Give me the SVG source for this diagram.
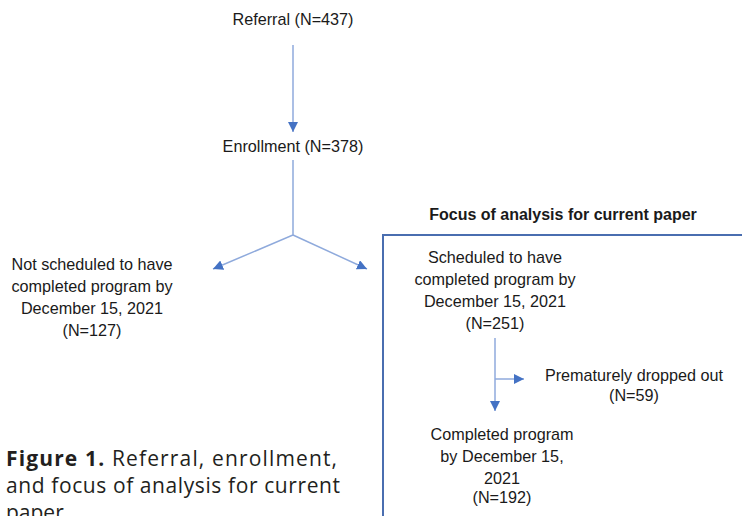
<svg xmlns="http://www.w3.org/2000/svg" width="742" height="516" viewBox="0 0 742 516">
<defs>
<style>
.t{font-family:"Liberation Sans",Arial,sans-serif;font-size:16.2px;fill:#1a1a1a;text-anchor:middle}
.h{font-family:"Liberation Sans",Arial,sans-serif;font-size:16px;font-weight:bold;fill:#1a1a1a;text-anchor:middle}
.c{font-family:"Open Sans","Liberation Sans",sans-serif;font-size:21px;fill:#231f20}
.ln{stroke:#8faadc;stroke-width:1.5;fill:none}
</style>
<marker id="ah" viewBox="0 0 10 10" refX="10" refY="5" markerWidth="10" markerHeight="10" markerUnits="userSpaceOnUse" orient="auto">
<path d="M0,0 L10,5 L0,10 Z" fill="#4472c4"/>
</marker>
</defs>
<rect width="742" height="516" fill="#ffffff"/>
<g id="connectors">
<line class="ln" x1="293" y1="45" x2="293" y2="132" marker-end="url(#ah)"/>
<polyline class="ln" points="293,160 293,235 213,269" marker-end="url(#ah)"/>
<line class="ln" x1="293" y1="235" x2="367" y2="269" marker-end="url(#ah)"/>
<line class="ln" x1="495" y1="338" x2="495" y2="411" marker-end="url(#ah)"/>
<line class="ln" x1="495" y1="379" x2="524" y2="379" marker-end="url(#ah)"/>
</g>
<g id="focus-box">
<rect x="383" y="235" width="380" height="300" fill="none" stroke="#4a6eb0" stroke-width="2"/>
<text class="h" x="563" y="220">Focus of analysis for current paper</text>
</g>
<g id="referral"><text class="t" x="293" y="25">Referral (N=437)</text></g>
<g id="enrollment"><text class="t" x="293" y="152">Enrollment (N=378)</text></g>
<g id="not-scheduled">
<text class="t" x="92" y="270">Not scheduled to have</text>
<text class="t" x="92" y="292">completed program by</text>
<text class="t" x="92" y="314">December 15, 2021</text>
<text class="t" x="92" y="336">(N=127)</text>
</g>
<g id="scheduled">
<text class="t" x="495" y="263">Scheduled to have</text>
<text class="t" x="495" y="285">completed program by</text>
<text class="t" x="495" y="307">December 15, 2021</text>
<text class="t" x="495" y="329">(N=251)</text>
</g>
<g id="dropped">
<text class="t" x="634" y="381">Prematurely dropped out</text>
<text class="t" x="634" y="401">(N=59)</text>
</g>
<g id="completed">
<text class="t" x="502" y="440">Completed program</text>
<text class="t" x="502" y="462">by December 15,</text>
<text class="t" x="502" y="484">2021</text>
<text class="t" x="502" y="503">(N=192)</text>
</g>
<g id="caption">
<text class="c" x="6" y="466" textLength="331" lengthAdjust="spacing"><tspan font-weight="bold">Figure 1.</tspan> Referral, enrollment,</text>
<text class="c" x="6" y="493" textLength="334" lengthAdjust="spacing">and focus of analysis for current</text>
<text class="c" x="6" y="520">paper.</text>
</g>
</svg>
